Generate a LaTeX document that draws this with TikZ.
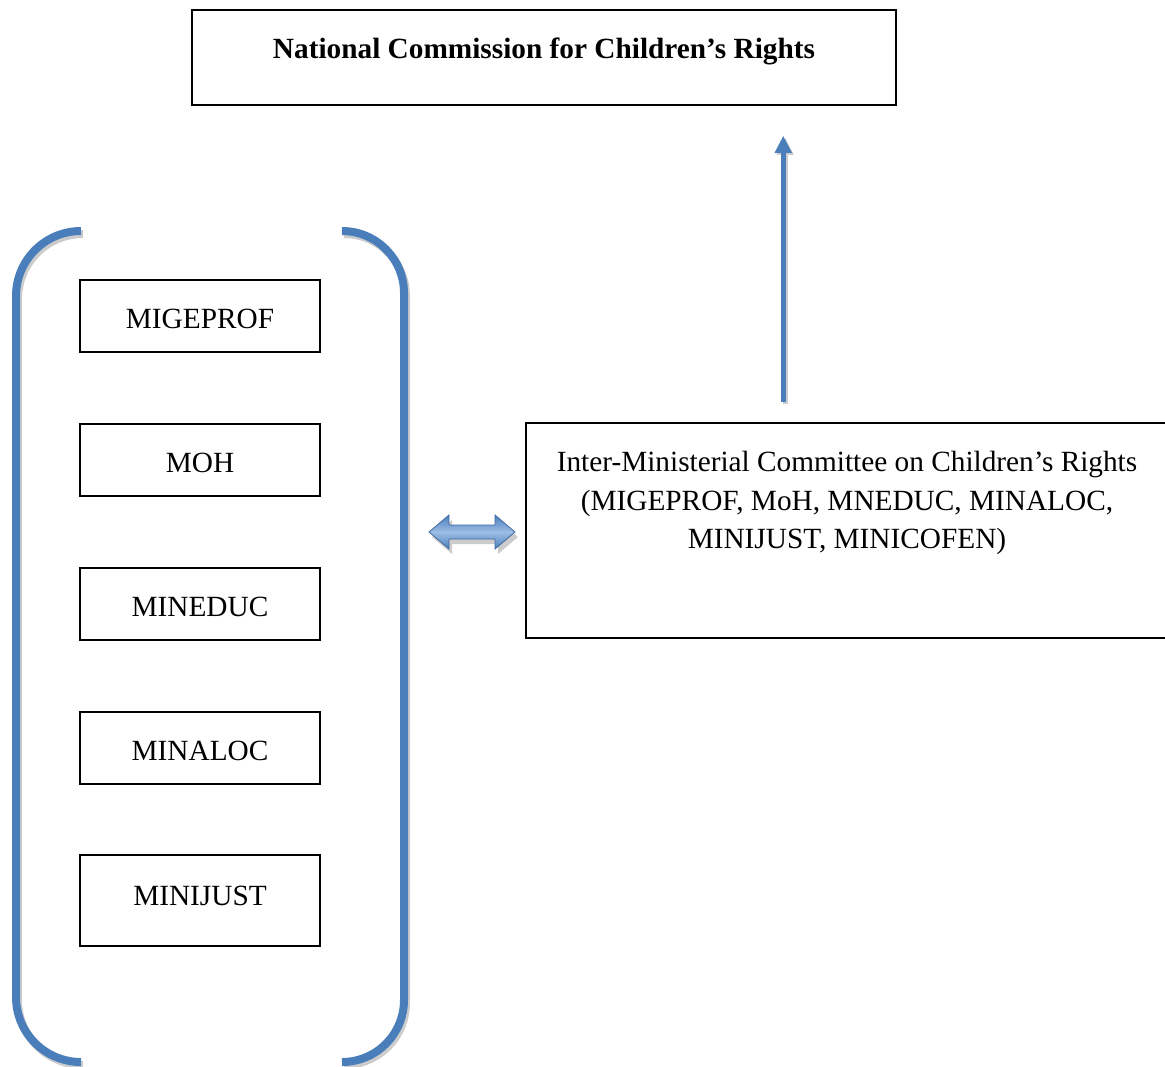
\documentclass[tikz,border=0pt]{standalone}
\usepackage{fontspec}
\setmainfont{Liberation Serif}
\usetikzlibrary{arrows.meta,calc}
\definecolor{obl}{HTML}{4A7EBB}
\definecolor{oblight}{HTML}{9DBDE6}
\definecolor{shd}{HTML}{CCCCCC}
\tikzset{
  box/.style={draw=black, line width=1.5pt, fill=white, inner sep=0pt, minimum width=240pt,
    text height=48pt, text depth=24pt, font=\fontsize{29.3}{38.5}\selectfont},
  brack/.style={draw=obl, line width=8pt},
  brackshadow/.style={draw=shd, line width=8pt},
  uparr/.style={draw=obl, line width=5pt, -{Triangle[width=16pt,length=17pt]}},
  uparrshadow/.style={draw=shd, line width=5pt, -{Triangle[width=16pt,length=17pt]}},
}
\begin{document}
\begin{tikzpicture}[x=1pt,y=1pt]
\useasboundingbox (0,0) rectangle (1165,-1066);
% top box
\node[box, minimum width=704pt, text height=48pt, text depth=47pt] (ncr) at (544,-57.5)
  {\bfseries National Commission for Children’s Rights};
% ministries
\node[box] (m1) at (200,-316) {MIGEPROF};
\node[box] (m2) at (200,-460) {MOH};
\node[box] (m3) at (200,-604) {MINEDUC};
\node[box] (m4) at (200,-748) {MINALOC};
\node[box, text height=50pt, text depth=41pt] (m5) at (200,-900.5) {MINIJUST};
% brackets (shadow then stroke)
\draw[brackshadow, rounded corners=65pt] (83,-234) -- (18,-234) -- (18,-1065) -- (83,-1065);
\draw[brackshadow, rounded corners=62pt] (344,-234) -- (406,-234) -- (406,-1065) -- (344,-1065);
\draw[brack, rounded corners=65pt] (81,-231) coordinate (lbt) -- (16,-231) -- (16,-1062) -- (81,-1062);
\draw[brack, rounded corners=62pt] (342,-231) coordinate (rbt) -- (404,-231) -- (404,-1062) -- (342,-1062);
% inter-ministerial committee box
\node[draw=black, line width=1.5pt, minimum width=640pt, minimum height=215pt, inner sep=0pt] (imc) at (846,-530.5) {};
\node[anchor=north, inner sep=0pt, align=center, font=\fontsize{29.3}{38.5}\selectfont] (imct) at ($(imc.north)+(1,-29)$)
  {Inter-Ministerial Committee on Children’s Rights\\(MIGEPROF, MoH, MNEDUC, MINALOC,\\MINIJUST, MINICOFEN)};
% up arrow
\coordinate (ua) at ($(imc.north west)+(258,20)$);
\coordinate (ub) at ($(ncr.south west)+(592,-30)$);
\draw[uparrshadow] ($(ua)+(2,-2)$) -- ($(ub)+(2,-2)$);
\draw[uparr] (ua) -- (ub);
% double arrow
\coordinate (dl) at (429,-532);
\coordinate (dr) at (515,-532);
\fill[shd] ($(dl)+(3,-5)$) -- ++(20,17) -- ++(0,-10) -- ++(46,0) -- ++(0,10) -- ++(20,-17) -- ++(-20,-17) -- ++(0,10) -- ++(-46,0) -- ++(0,-10) -- cycle;
\path[draw=obl!85!black, line width=0.8pt, top color=obl, bottom color=obl, middle color=oblight]
  (dl) -- ++(20,17) -- ++(0,-10) -- ++(46,0) -- ++(0,10) -- (dr) -- ++(-20,-17) -- ++(0,10) -- ++(-46,0) -- ++(0,-10) -- cycle;
\end{tikzpicture}
\end{document}
